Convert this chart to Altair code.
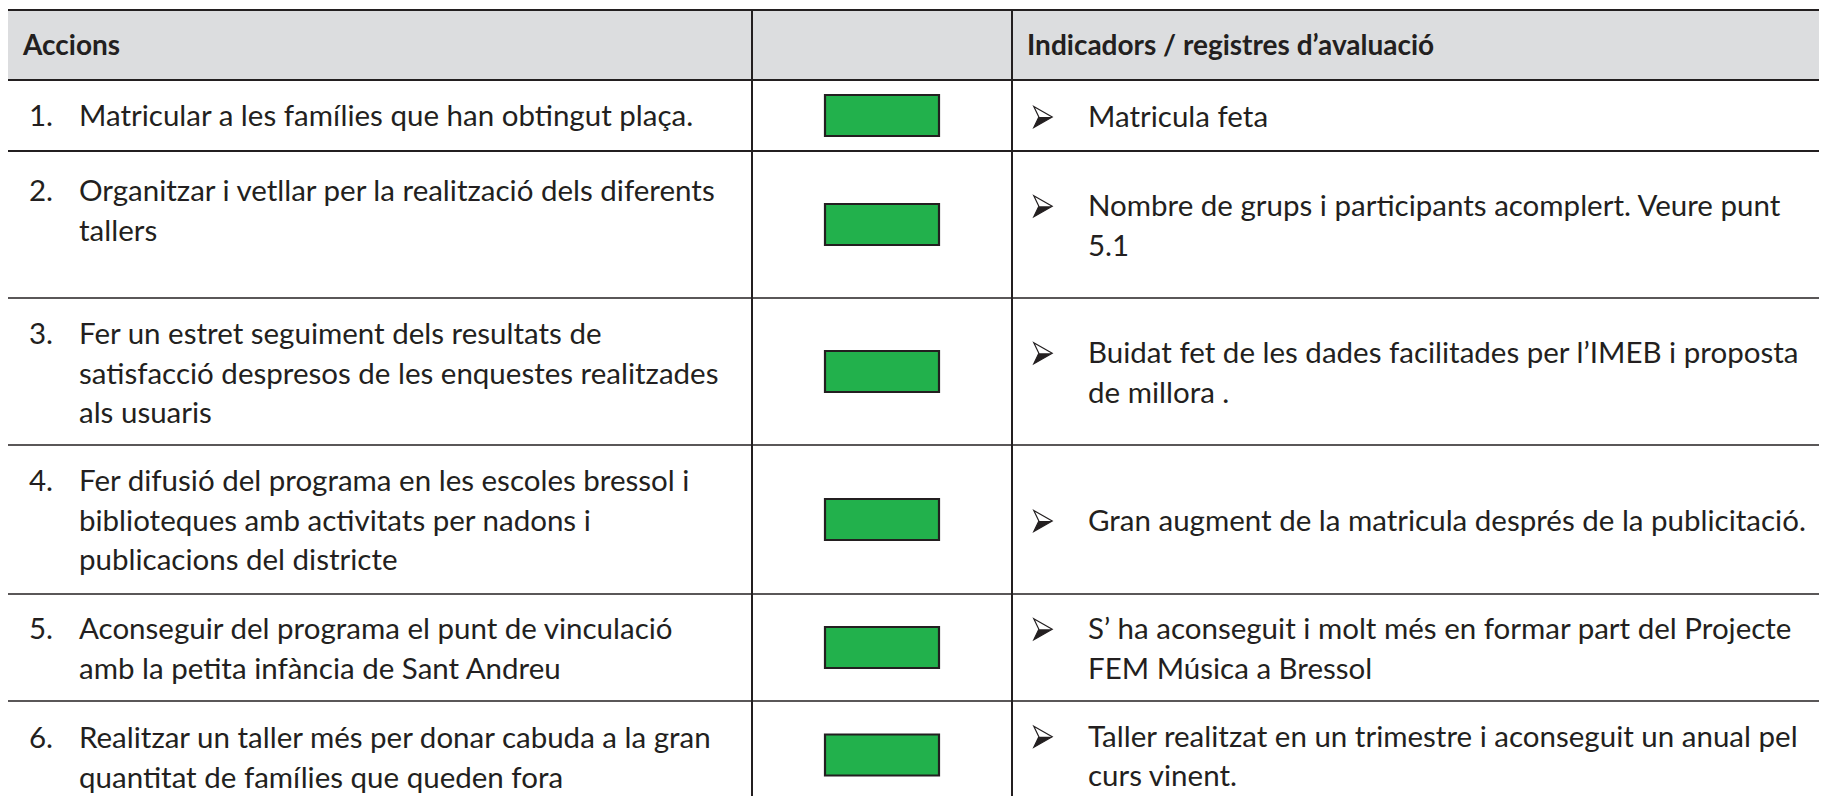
import altair as alt
import pandas as pd

# ---------------- data ----------------
HEADER_LEFT = "Accions"
HEADER_RIGHT = "Indicadors / registres d’avaluació"
NUMBERS = ["1.", "2.", "3.", "4.", "5.", "6."]
ACTIONS = [
    ["Matricular a les famílies que han obtingut plaça."],
    ["Organitzar i vetllar per la realització  dels diferents", "tallers"],
    ["Fer un estret seguiment dels resultats de",
     "satisfacció despresos de les enquestes realitzades", "als usuaris"],
    ["Fer difusió del programa en les escoles bressol i",
     "biblioteques amb activitats per nadons  i", "publicacions del districte"],
    ["Aconseguir del programa el punt de vinculació",
     "amb la petita infància de Sant Andreu"],
    ["Realitzar un taller més per donar cabuda a la gran",
     "quantitat de famílies que queden fora"],
]
INDICATORS = [
    ["Matricula feta"],
    ["Nombre de grups i participants acomplert. Veure punt", "5.1"],
    ["Buidat fet  de les dades facilitades per l’IMEB i proposta", "de millora ."],
    ["Gran augment de la matricula després de la publicitació."],
    ["S’ ha aconseguit i molt més en formar part del Projecte", "FEM Música a Bressol"],
    ["Taller realitzat en un trimestre i aconseguit un anual pel", "curs vinent."],
]
STATUS = ["assolit", "assolit", "assolit", "assolit", "assolit", "assolit"]
STATUS_COLORS = {"assolit": "#22b14c"}

# ---------------- layout (page pixels) ----------------
M = 8
W, H = 1811, 788
COL_X = [7, 752, 1012, 1827]
ROW_Y = [10, 80, 151, 298, 445, 594, 701, 809]
LINE_W = [2.2, 2.2, 2.2, 1.7, 1.7, 1.7, 1.7]
LEFT_FIRST = [37, 41, 37, 37, 36, 38]
LH = 39.5
NUM_X, TXT_X = 29, 79
BOX_X, BOX_X2, BOX_H = 825, 939, 41
ARROW_X, IND_X = 1043, 1088
INK = "#231f20"
FONT = "Lato"
FS = 29.5
FS_HEAD = 28

# arrowhead bullet shapes (unit box)
ARROW_OUTLINE = "M -1 -1.15 L 1 0 L -1 1.15 L -0.45 0 Z"
ARROW_LOWER = "M -0.45 0 L 1 0 L -1 1.15 Z"

xs = alt.Scale(domain=[M, M + W], range=[0, W])
ys = alt.Scale(domain=[M, M + H], range=[0, H])

hdr = pd.DataFrame([{"x": COL_X[0], "x2": COL_X[3], "y": ROW_Y[0], "y2": ROW_Y[1]}])

hl = pd.DataFrame([{"x": COL_X[0], "x2": COL_X[3], "y": y, "w": w}
                   for y, w in zip(ROW_Y[:-1], LINE_W)])
vl = pd.DataFrame([{"x": x, "y": ROW_Y[0], "y2": ROW_Y[-1], "w": 2}
                   for x in COL_X[:3]])

boxes, left_txt, right_txt, nums, arrows = [], [], [], [], []
for i in range(6):
    top, bot = ROW_Y[i + 1], ROW_Y[i + 2]
    c = (top + bot) / 2
    boxes.append({"x": BOX_X, "x2": BOX_X2, "y": c - BOX_H / 2, "y2": c + BOX_H / 2,
                  "status": STATUS[i]})
    y0 = top + LEFT_FIRST[i]
    nums.append({"x": NUM_X, "y": y0, "t": NUMBERS[i]})
    for j, line in enumerate(ACTIONS[i]):
        left_txt.append({"x": TXT_X, "y": y0 + j * LH, "t": line})
    n = len(INDICATORS[i])
    r0 = c + 2.5 - (n - 1) * LH / 2
    arrows.append({"x": ARROW_X, "y": r0 - 1})
    for j, line in enumerate(INDICATORS[i]):
        right_txt.append({"x": IND_X, "y": r0 + j * LH, "t": line})

heads = pd.DataFrame([{"x": 23, "y": 47, "t": HEADER_LEFT},
                      {"x": 1027, "y": 47, "t": HEADER_RIGHT}])
body = pd.DataFrame(left_txt + right_txt + nums)
arr = pd.DataFrame(arrows)

X = lambda f: alt.X(f, scale=xs, axis=None)
Y = lambda f: alt.Y(f, scale=ys, axis=None)

bg = alt.Chart(hdr).mark_rect(color="#dcdddf").encode(
    x=X("x:Q"), x2="x2:Q", y=Y("y:Q"), y2="y2:Q")

hrules = alt.Chart(hl).mark_rule(color=INK).encode(
    x=X("x:Q"), x2="x2:Q", y=Y("y:Q"),
    strokeWidth=alt.StrokeWidth("w:Q", scale=None, legend=None))
vrules = alt.Chart(vl).mark_rule(color=INK).encode(
    x=X("x:Q"), y=Y("y:Q"), y2="y2:Q",
    strokeWidth=alt.StrokeWidth("w:Q", scale=None, legend=None))

status_boxes = alt.Chart(pd.DataFrame(boxes)).mark_rect(
    stroke=INK, strokeWidth=2.2).encode(
    x=X("x:Q"), x2="x2:Q", y=Y("y:Q"), y2="y2:Q",
    color=alt.Color("status:N", legend=None,
                    scale=alt.Scale(domain=list(STATUS_COLORS),
                                    range=list(STATUS_COLORS.values()))))

head_text = alt.Chart(heads).mark_text(
    align="left", baseline="middle", font=FONT, fontSize=FS_HEAD, fontWeight="bold",
    color=INK).encode(x=X("x:Q"), y=Y("y:Q"), text="t:N")

body_text = alt.Chart(body).mark_text(
    align="left", baseline="middle", font=FONT, fontSize=FS, color=INK).encode(
    x=X("x:Q"), y=Y("y:Q"), text="t:N")

arrow_fill = alt.Chart(arr).mark_point(
    shape=ARROW_LOWER, filled=True, color=INK, opacity=1, size=340).encode(
    x=X("x:Q"), y=Y("y:Q"))
arrow_line = alt.Chart(arr).mark_point(
    shape=ARROW_OUTLINE, filled=False, color=INK, opacity=1, size=340,
    strokeWidth=1.2).encode(x=X("x:Q"), y=Y("y:Q"))

chart = alt.layer(bg, hrules, vrules, status_boxes, head_text, body_text,
                  arrow_fill, arrow_line
                  ).properties(width=W, height=H, padding=0, autosize="none"
                  ).configure_view(stroke=None)

chart.save("out.html", embed_options={"renderer": "svg", "actions": False})
